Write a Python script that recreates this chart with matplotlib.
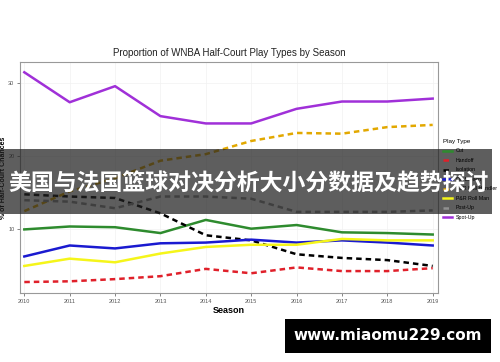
import matplotlib
matplotlib.use("Agg")
from matplotlib import pyplot as plt
from matplotlib.patches import Rectangle

plt.rcParams['font.family'] = ['Liberation Sans', 'DejaVu Sans']

# 데이터
seasons = [2010, 2011, 2012, 2013, 2014, 2015, 2016, 2017, 2018, 2019]
cut = [10.0, 10.4, 10.3, 9.5, 11.3, 10.1, 10.6, 9.6, 9.5, 9.3]
handoff = [2.8, 2.9, 3.2, 3.6, 4.6, 4.0, 4.8, 4.3, 4.3, 4.7]
isolation = [14.8, 14.5, 14.3, 12.2, 9.2, 8.5, 6.6, 6.1, 5.8, 5.0]
off_screen = [6.3, 7.8, 7.4, 8.1, 8.2, 8.6, 8.2, 8.5, 8.2, 7.8]
pr_ball = [12.5, 15.2, 17.0, 19.4, 20.3, 22.1, 23.2, 23.1, 24.0, 24.3]
pr_roll = [5.0, 6.0, 5.5, 6.7, 7.6, 7.9, 7.9, 8.7, 8.5, 8.5]
post_up = [14.0, 13.8, 12.9, 14.5, 14.5, 14.2, 12.4, 12.4, 12.4, 12.6]
spot_up = [31.5, 27.4, 29.6, 25.5, 24.5, 24.5, 26.5, 27.5, 27.5, 27.9]

fig = plt.figure(figsize=(5, 3.62), dpi=100)
ax = fig.add_axes([0.04, 0.1906, 0.836, 0.638])

dash = (0, (2.2, 1.6))
ax.plot(seasons, cut, color="#2e8b2e", lw=1.8, label="Cut")
ax.plot(seasons, handoff, color="#e0202a", lw=1.8, ls=dash, label="Handoff")
ax.plot(seasons, isolation, color="black", lw=1.8, ls=dash, label="Isolation")
ax.plot(seasons, off_screen, color="#1a1ad0", lw=1.8, label="Off Screen")
ax.plot(seasons, pr_ball, color="#e2a800", lw=1.8, ls=dash, label="P&R Ball Handler")
ax.plot(seasons, pr_roll, color="#f5f51a", lw=1.8, label="P&R Roll Man")
ax.plot(seasons, post_up, color="#909090", lw=1.8, ls=dash, label="Post-Up")
ax.plot(seasons, spot_up, color="#a030d8", lw=1.8, label="Spot-Up")

ax.set_xlim(2009.905, 2019.117)
ax.set_ylim(1.3, 32.9)
ax.set_xticks(seasons)
ax.set_yticks([10, 20, 30])
ax.tick_params(labelsize=4, colors="#555555", length=2, width=0.5, pad=2)
ax.grid(True, color="#f2f2f2", lw=0.5)
ax.set_axisbelow(True)
for s in ax.spines.values():
    s.set_color("#999999")
    s.set_linewidth(0.8)

ax.set_title("Proportion of WNBA Half-Court Play Types by Season", fontsize=7, color="#222222", pad=4)
ax.set_xlabel("Season", fontsize=6.5, fontweight="bold", labelpad=2)
ax.set_ylabel("% of Half-Court Chances", fontsize=5, fontweight="bold")
ax.yaxis.set_label_coords(-0.03, 0.5)

leg = fig.legend(loc="upper left", bbox_to_anchor=(0.882, 0.622), frameon=False,
                 fontsize=3.8, title="Play Type", title_fontsize=4.5,
                 handlelength=1.6, labelspacing=0.85, borderaxespad=0)
leg._legend_box.align = "left"

# 워터마크 띠
fig.patches.append(Rectangle((0, 0.409), 0.984, 0.1796, transform=fig.transFigure,
                             facecolor="#202020", alpha=0.72, zorder=5))
fig.text(0.498, 0.492, "美国与法国篮球对决分析大小分数据及趋势探讨", fontsize=16.5,
         fontweight="bold", color="white", ha="center", va="center",
         family=["Noto Sans CJK SC", "DejaVu Sans"], zorder=6)

fig.patches.append(Rectangle((0.57, 0.0249), 0.412, 0.094, transform=fig.transFigure,
                             facecolor="black", zorder=5))
fig.text(0.776, 0.072, "www.miaomu229.com", fontsize=11, fontweight="bold",
         color="white", ha="center", va="center", family=["DejaVu Sans"], zorder=6)

fig.savefig("out.png", dpi=100)
